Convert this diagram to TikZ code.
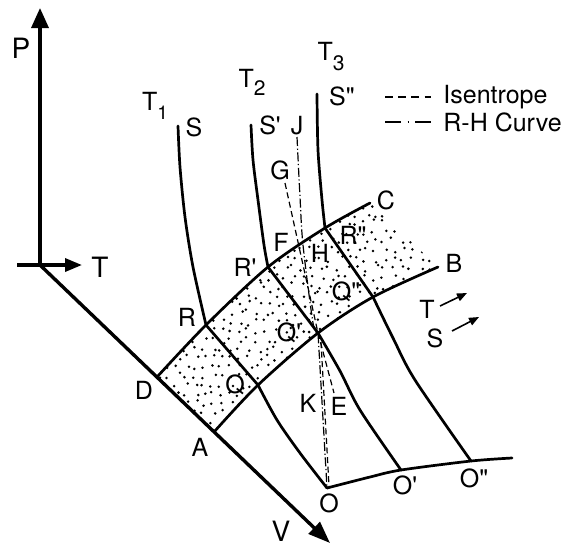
\documentclass[tikz,border=0pt]{standalone}
\usepackage{fontspec}
\setmainfont{TeX Gyre Heros}
\usetikzlibrary{arrows.meta}
\newcommand\onep{\textquotesingle}
\newcommand\twop{\textquotedbl}

\begin{document}
\begin{tikzpicture}[
    x=0.5pt, y=-0.5pt,
    lbl/.style={font=\fontsize{12.5}{14}\selectfont, inner sep=0pt},
    biglbl/.style={font=\fontsize{14}{16}\selectfont, inner sep=0pt},
    axis/.style={line width=1.7pt},
    curve/.style={line width=1.35pt, line cap=round, line join=round},
    isen/.style={line width=0.6pt, dash pattern=on 3pt off 1.8pt},
    rhc/.style={line width=0.6pt, dash pattern=on 4.5pt off 1.3pt on 0.6pt off 1.3pt}
]
    \useasboundingbox (0,0) rectangle (571,548);

    % points of the P-V-T sketch
    \coordinate (o) at (40,265);
    \coordinate (ptip) at (40,8);
    \coordinate (tl) at (17,265);
    \coordinate (ttip) at (82,265);
    \coordinate (vtip) at (330,543);
    \coordinate (D) at (157,377);
    \coordinate (R) at (206,325);
    \coordinate (R1) at (268,267);
    \coordinate (R2) at (325,228);
    \coordinate (C) at (370,203);
    \coordinate (A) at (214,432);
    \coordinate (Q) at (258,385);
    \coordinate (Q1) at (318,333);
    \coordinate (Q2) at (373,297);
    \coordinate (B) at (438,267);
    \coordinate (O) at (327,488);
    \coordinate (O1) at (401,470);
    \coordinate (O2) at (471,461);
    \coordinate (Oend) at (512,458);
    \coordinate (S) at (178,126);
    \coordinate (S1) at (251,125);
    \coordinate (S2) at (317,94);
    \coordinate (G) at (285,183);
    \coordinate (J) at (297,137);
    \coordinate (E) at (334,393);
    \coordinate (Qa) at (321,342);
    \coordinate (Oa) at (329,486);

    % stippled band
    \begin{scope}
        \clip plot[smooth] coordinates {(D) (R) (R1) (R2) (C)} -- (B)
            -- plot[smooth] coordinates {(B) (Q2) (Q1) (Q) (A)} -- cycle;
        \pgfmathsetseed{11}
        \foreach \i in {150,159,...,446}
            \foreach \j in {196,205,...,436}
                \fill (\i+3.5*rand,\j+3.5*rand) circle (0.7pt);
    \end{scope}

    % axes
    \draw[axis, -{Triangle[length=10pt,width=8.5pt]}] (o) -- (ptip);
    \draw[axis, -{Triangle[length=8.5pt,width=6.5pt]}] (tl) -- (ttip);
    \draw[axis, -{Triangle[length=11pt,width=8pt]}] (o) -- (vtip);

    % band edges
    \draw[curve] plot[smooth] coordinates {(D) (R) (R1) (R2) (C)};
    \draw[curve] plot[smooth] coordinates {(A) (Q) (Q1) (Q2) (B)};

    % isotherms T1, T2, T3
    \draw[curve] plot[smooth] coordinates {(S) (180,167) (185,217) (193,267) (R)};
    \draw[curve] (R) -- (Q);
    \draw[curve] plot[smooth] coordinates {(Q) (277,420) (300,453) (O)};
    \draw[curve] plot[smooth] coordinates {(S1) (253,160) (258,200) (264,245) (R1)};
    \draw[curve] (R1) -- (Q1);
    \draw[curve] plot[smooth] coordinates {(Q1) (340,371) (360,410) (O1)};
    \draw[curve] plot[smooth] coordinates {(S2) (318,150) (322,200) (R2)};
    \draw[curve] (R2) -- (Q2);
    \draw[curve] plot[smooth] coordinates {(Q2) (393,338) (415,380) (O2)};

    % curve through O
    \draw[curve] plot[smooth] coordinates {(O) (370,477) (O1) (O2) (Oend)};

    % isentrope and R-H curve
    \draw[isen] (G) -- (Q1) -- (E);
    \draw[isen] (Qa) -- (Oa);
    \draw[rhc] plot[smooth] coordinates {(J) (300,197) (303,245) (313,323) (Q1)} -- (O);

    % small direction arrows
    \coordinate (ta) at (440,306);
    \coordinate (tb) at (467,293);
    \coordinate (sa) at (452,331);
    \coordinate (sb) at (479,317);
    \draw[line width=0.8pt, -{Triangle[length=5pt,width=4pt]}] (ta) -- (tb);
    \draw[line width=0.8pt, -{Triangle[length=5pt,width=4pt]}] (sa) -- (sb);

    % legend
    \node[lbl, anchor=west] (isentxt) at (443,97) {Isentrope};
    \node[lbl, anchor=west] (rhtxt) at (443,122) {R-H Curve};
    \coordinate (la) at (385,97);
    \coordinate (lb) at (431,97);
    \coordinate (lc) at (385,122);
    \coordinate (ld) at (432,122);
    \draw[line width=0.6pt, dash pattern=on 4pt off 2.6pt] (la) -- (lb);
    \draw[line width=0.6pt, dash pattern=on 8pt off 3.3pt on 0.6pt off 3.3pt] (lc) -- (ld);

    % labels
    \node[biglbl] (lP) at (21,48) {P};
    \node[biglbl] (lT) at (100,267) {T};
    \node[biglbl] (lV) at (281,531) {V};
    \node[lbl] (lT1) at (155,106) {T\raisebox{-4.5pt}{\fontsize{9.5}{9.5}\selectfont 1}};
    \node[lbl] (lT2) at (252,82) {T\raisebox{-4pt}{\fontsize{10.5}{10.5}\selectfont 2}};
    \node[lbl] (lT3) at (331,57) {T\raisebox{-5pt}{\fontsize{10.5}{10.5}\selectfont 3}};
    \node[lbl] (lS) at (194,127) {S};
    \node[lbl] (lS1) at (270,125) {S\onep};
    \node[lbl] (lS2) at (342,96) {S\twop};
    \node[lbl] (lJ) at (297,126) {J};
    \node[lbl] (lG) at (280,170) {G};
    \node[lbl] (lC) at (386,200) {C};
    \node[lbl] (lB) at (454,263) {B};
    \node[lbl] (lF) at (281,242) {F};
    \node[lbl] (lH) at (320,253) {H};
    \node[lbl] (lR2) at (353,235) {R\twop};
    \node[lbl] (lR1) at (245,267) {R\onep};
    \node[lbl] (lR) at (187,317) {R};
    \node[lbl] (lQ2) at (346,292) {Q\twop};
    \node[lbl] (lQ1) at (289,333) {Q\onep};
    \node[lbl] (lQ) at (235,385) {Q};
    \node[lbl] (lD) at (144,390) {D};
    \node[lbl] (lA) at (200,447) {A};
    \node[lbl] (lK) at (308,403) {K};
    \node[lbl] (lE) at (339,406) {E};
    \node[lbl] (lO) at (329,503) {O};
    \node[lbl] (lO1) at (405,485) {O\onep};
    \node[lbl] (lO2) at (474,478) {O\twop};
    \node[lbl] (lTa) at (427,309) {T};
    \node[lbl] (lSa) at (435,338) {S};
\end{tikzpicture}
\end{document}
